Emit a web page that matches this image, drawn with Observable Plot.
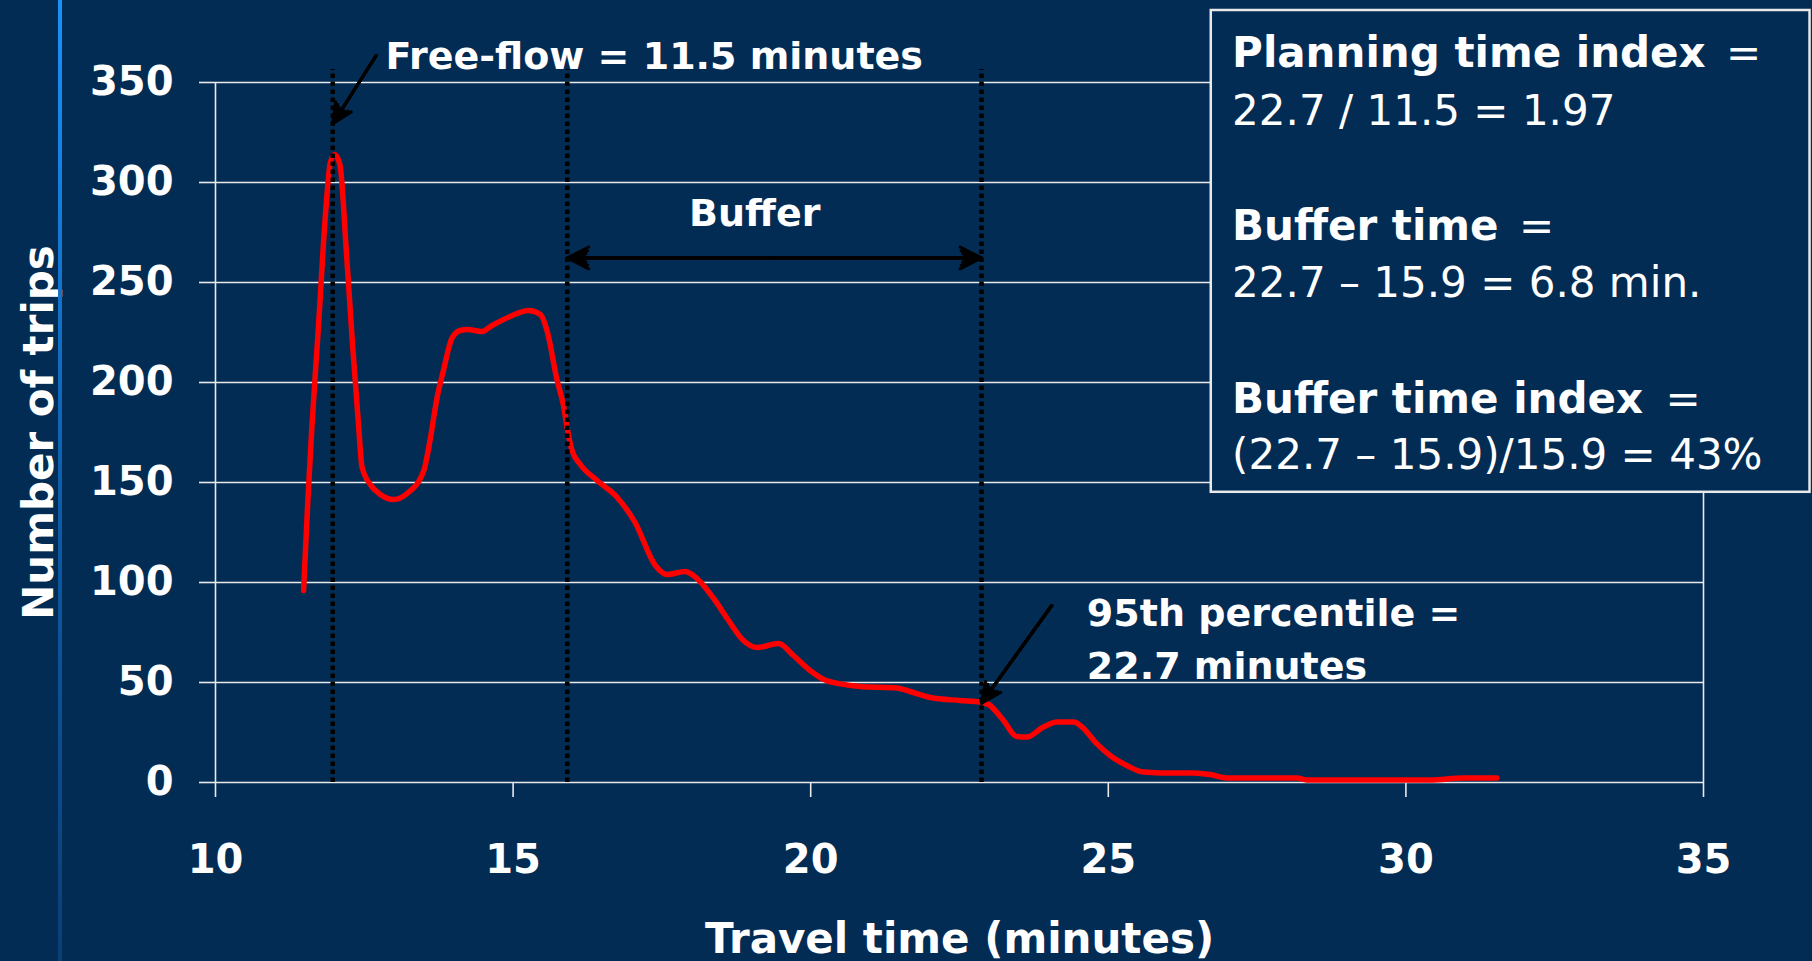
<!DOCTYPE html>
<html>
<head>
<meta charset="utf-8">
<script src="https://cdn.jsdelivr.net/npm/d3@7"></script>
<script src="https://cdn.jsdelivr.net/npm/@observablehq/plot@0.6"></script>
<style>
  html, body { margin: 0; padding: 0; background: #032c54; overflow: hidden; }
  #stage { position: relative; width: 1812px; height: 961px; }
  #stripe { position: absolute; left: 58px; top: 0; width: 4px; height: 961px;
            background: linear-gradient(#1a92fa, #0d5aa6 55%, #0a3f76); }
</style>
</head>
<body>
<div id="stage"><div id="stripe"></div></div>
<script>
// Distribution of trip travel times on a corridor (smoothed count per travel time)
const travelTime = [
  11.48, 11.55, 11.62, 11.73, 11.85, 11.93, 12.0, 12.09, 12.2, 12.3, 12.41, 12.46,
  12.6, 12.77, 12.99, 13.22, 13.5, 13.61, 13.72, 13.83, 13.97, 14.11, 14.23, 14.48,
  14.62, 14.95, 15.26, 15.46, 15.57, 15.74, 15.85, 15.91, 15.99, 16.13, 16.41, 16.75,
  17.05, 17.39, 17.59, 17.89, 18.03, 18.37, 18.62, 18.87, 19.1, 19.46, 19.71, 19.99,
  20.22, 20.5, 20.83, 21.45, 21.67, 22.01, 22.51, 22.85, 22.99, 23.24, 23.46, 23.63,
  23.91, 24.14, 24.42, 24.56, 24.81, 25.03, 25.31, 25.59, 25.87, 26.43, 26.71, 26.99,
  28.17, 28.33, 30.41, 30.97, 31.53
];
const trips = [
  96, 140, 178, 228, 285, 310, 314, 309, 265, 220, 176, 158,
  149, 144, 141.5, 144.5, 156, 172, 192, 206, 222, 226, 226.5, 225.5,
  228, 233, 236, 234, 226, 201, 188, 177, 166, 159, 151, 142.5,
  130, 108.5, 104, 105.5, 103.5, 92, 81, 71, 67.5, 69.5, 63.5, 56,
  51.5, 49.3, 48, 47.3, 45.5, 42.5, 41, 40.2, 39, 31, 23, 22.7,
  27.7, 30.2, 30.2, 27.7, 19.3, 13.5, 8.5, 5.2, 4.8, 4.8, 4, 2.3,
  2.3, 1.3, 1.3, 2.3, 2.2
];

const xTicks = [10, 15, 20, 25, 30, 35];
const yTicks = [0, 50, 100, 150, 200, 250, 300, 350];

// Free-flow, average and 95th-percentile travel times (dotted verticals)
const markerTimes = [11.97, 15.91, 22.87];

const xTitle = "Travel time (minutes)";
const yTitle = "Number of trips";
const freeFlowLabel = "Free-flow = 11.5 minutes";
const bufferLabel = "Buffer";
const percentileLabel = "95th percentile =\n22.7 minutes";

const boxHeadings = ["Planning time index", "Buffer time", "Buffer time index"];
const boxFormulas = ["22.7 / 11.5 = 1.97", "22.7 – 15.9 = 6.8 min.", "(22.7 – 15.9)/15.9 = 43%"];

const bg = "#032c54";
const gridColor = "#e9e9e9";

// Excel-like filled "stealth" arrowheads: stacked wings of narrowing angle
function stealthArrow(data, {angle = 54, length = 12, width = 3} = {}) {
  const layers = [[1, 1], [0.72, 0.9], [0.45, 0.8], [0.2, 0.72], [0.05, 0.7]];
  return layers.map(([a, l]) => Plot.arrow(data, {
    x1: "x1", y1: "y1", x2: "x2", y2: "y2",
    stroke: "black", strokeWidth: width,
    headAngle: angle * a, headLength: length * l
  }));
}

const freeFlowArrow = [{x1: 12.70, y1: 363.5, x2: markerTimes[0], y2: 329.4}];
const percentileArrow = [{x1: 24.05, y1: 88.5, x2: markerTimes[2], y2: 39.7}];
const bufferMid = (markerTimes[1] + markerTimes[2]) / 2;
const bufferArrows = [
  {x1: bufferMid, y1: 262.3, x2: markerTimes[1], y2: 262.3},
  {x1: bufferMid, y1: 262.3, x2: markerTimes[2], y2: 262.3}
];

const chart = Plot.plot({
  width: 1812,
  height: 961,
  marginLeft: 215,
  marginRight: 109,
  marginTop: 82,
  marginBottom: 179,
  x: {domain: [10, 35]},
  y: {domain: [0, 350]},
  style: {background: bg, color: "white", fontFamily: "DejaVu Sans", overflow: "visible"},
  marks: [
    Plot.gridY(yTicks, {stroke: gridColor, strokeOpacity: 1, strokeWidth: 1.6}),
    Plot.ruleX([10, 35], {y1: 0, y2: 350, stroke: gridColor, strokeWidth: 1.6}),
    Plot.axisY(yTicks, {
      tickSize: 16, tickPadding: 26, fontSize: 40, fontWeight: "bold",
      label: null, stroke: gridColor, strokeWidth: 1.6
    }),
    Plot.axisX(xTicks, {
      tickSize: 15, tickPadding: 47, fontSize: 40, fontWeight: "bold",
      label: null, stroke: gridColor, strokeWidth: 1.6
    }),
    Plot.line(travelTime.map((t, i) => [t, trips[i]]), {
      stroke: "#ff0000", strokeWidth: 5.5, curve: "monotone-x",
      strokeLinecap: "round", strokeLinejoin: "round"
    }),
    Plot.ruleX(markerTimes, {
      y1: 0, y2: 356.5, stroke: "black", strokeWidth: 4.5, strokeDasharray: "4.5,3.5"
    }),
    ...stealthArrow(freeFlowArrow, {angle: 50, length: 11}),
    ...stealthArrow(percentileArrow, {angle: 50, length: 11}),
    ...stealthArrow(bufferArrows, {angle: 54, length: 12}),

    // axis titles
    Plot.text([yTitle], {
      frameAnchor: "left", dx: -176, rotate: -90, textAnchor: "middle", lineAnchor: "middle",
      fontSize: 42, fontWeight: "bold", fill: "white"
    }),
    Plot.text([xTitle], {
      frameAnchor: "bottom", dy: 170, lineAnchor: "bottom",
      fontSize: 42, fontWeight: "bold", fill: "white"
    }),

    // annotations
    Plot.text([freeFlowLabel], {
      x: 12.855, y: 356.9, textAnchor: "start", lineAnchor: "bottom",
      fontSize: 38, fontWeight: "bold", fill: "white"
    }),
    Plot.text([bufferLabel], {
      x: 19.06, y: 278.5, textAnchor: "middle", lineAnchor: "bottom",
      fontSize: 38, fontWeight: "bold", fill: "white"
    }),
    Plot.text([percentileLabel], {
      x: 24.64, y: 52, textAnchor: "start", lineAnchor: "bottom", lineHeight: 1.39,
      fontSize: 38, fontWeight: "bold", fill: "white"
    }),

    // summary box
    Plot.rect([0], {
      x1: 26.73, x2: 36.79, y1: 145.1, y2: 386,
      fill: bg, stroke: gridColor, strokeWidth: 2.5
    }),
    Plot.text(boxHeadings, {
      x: 27.08, y: [357.6, 271.3, 184.8], textAnchor: "start", lineAnchor: "bottom",
      fontSize: 42, fontWeight: "bold", fill: "white"
    }),
    Plot.text(["=", "=", "="], {
      x: [35.38, 31.9, 34.36], y: [357.6, 271.3, 184.8], textAnchor: "start", lineAnchor: "bottom",
      fontSize: 42, fill: "white"
    }),
    Plot.text(boxFormulas, {
      x: 27.08, y: [329, 242.6, 156.8], textAnchor: "start", lineAnchor: "bottom",
      fontSize: 42, fill: "white"
    })
  ]
});

document.getElementById("stage").prepend(chart);
</script>
</body>
</html>
